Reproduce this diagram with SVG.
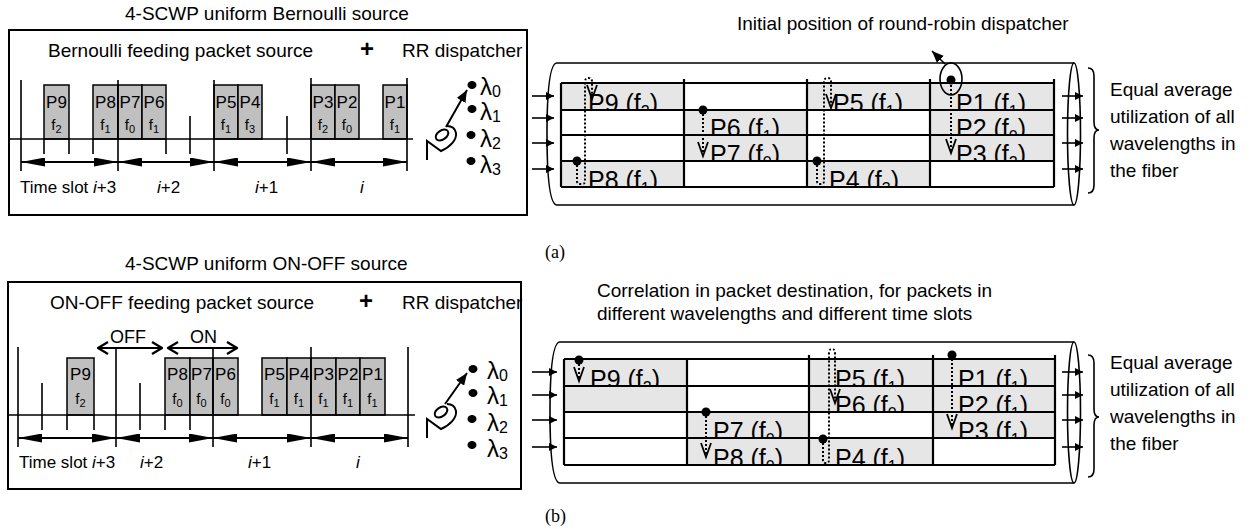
<svg xmlns="http://www.w3.org/2000/svg" width="1258" height="529" viewBox="0 0 1258 529">
<defs>
<style>
text { font-family: "Liberation Sans", Arial, sans-serif; fill:#000; }
.f19 { font-size:19px; }
.f17 { font-size:17px; }
.it { font-style:italic; }
.box { fill:#fff; stroke:#000; stroke-width:2; }
.ax { stroke:#000; stroke-width:1.6; fill:none; }
.pk { fill:#c0c0c0; stroke:#000; stroke-width:1.5; }
.pl { font-size:17px; text-anchor:middle; }
.fl { font-size:15px; text-anchor:middle; }
.fs { font-size:11px; }
.slot { stroke:#000; stroke-width:2; fill:none; marker-start:url(#sh); marker-end:url(#sh); }
.oo { stroke:#000; stroke-width:2; fill:none; marker-start:url(#chev); marker-end:url(#chev); }
.cg { fill:#e6e6e6; }
.cw { fill:#fff; }
.ct { font-size:25px; }
.cs { font-size:16px; }
.grid { stroke:#000; stroke-width:2.2; fill:none; }
.fib { stroke:#000; stroke-width:1.6; fill:none; }
.dt { stroke:#000; stroke-width:2; stroke-dasharray:2 2; fill:none; }
.vh { stroke:#000; stroke-width:1.8; fill:none; }
.lam { font-size:24px; }
.lams { font-size:16px; }
.io { stroke:#000; stroke-width:1.6; fill:none; marker-end:url(#fa); }
.brace { stroke:#000; stroke-width:1.6; fill:none; }
.cap { font-family:"Liberation Serif", "Times New Roman", serif; font-size:18px; }
.dsp { stroke:#000; stroke-width:2; fill:none; }
</style>
<marker id="sh" viewBox="0 0 24 9" refX="24" refY="4.5" markerWidth="24" markerHeight="9" markerUnits="userSpaceOnUse" orient="auto-start-reverse"><path d="M0,0 L24,4.5 L0,9 Z" fill="#000"/></marker>
<marker id="chev" viewBox="0 0 12 14" refX="11" refY="7" markerWidth="12" markerHeight="14" markerUnits="userSpaceOnUse" orient="auto-start-reverse"><path d="M1,1 L11,7 L1,13" fill="none" stroke="#000" stroke-width="2.2"/></marker>
<marker id="fa" viewBox="0 0 8 8" refX="8" refY="4" markerWidth="8" markerHeight="8" markerUnits="userSpaceOnUse" orient="auto"><path d="M0,0 L8,4 L0,8 Z" fill="#000"/></marker>
<marker id="ah" viewBox="0 0 12 10" refX="12" refY="5" markerWidth="12" markerHeight="10" markerUnits="userSpaceOnUse" orient="auto"><path d="M0,0 L12,5 L0,10 Z" fill="#000"/></marker>
</defs>
<rect width="1258" height="529" fill="#fff"/>

<!-- ================= PANEL (a) ================= -->
<g id="source-a">
<text x="125" y="20" class="f19">4-SCWP uniform Bernoulli source</text>
<rect x="9" y="30" width="518" height="185" class="box"/>
<text x="48" y="57" class="f19">Bernoulli feeding packet source</text>
<text x="367" y="57" font-size="24" font-weight="bold" text-anchor="middle">+</text>
<text x="402" y="57" class="f19">RR dispatcher</text>
<rect x="44" y="85" width="25" height="54" class="pk"/>
<rect x="93" y="85" width="25" height="54" class="pk"/>
<rect x="118" y="85" width="24" height="54" class="pk"/>
<rect x="142" y="85" width="24" height="54" class="pk"/>
<rect x="214" y="85" width="24" height="54" class="pk"/>
<rect x="238" y="85" width="24" height="54" class="pk"/>
<rect x="311" y="85" width="24" height="54" class="pk"/>
<rect x="335" y="85" width="24" height="54" class="pk"/>
<rect x="383" y="85" width="24" height="54" class="pk"/>
<path class="ax" d="M9,139 H413 M21,80 V171 M118,80 V171 M214,80 V171 M311,78 V171 M407,78 V171 M44,139 V154 M69,139 V154 M93,139 V154 M166,139 V154 M190,116 V154 M287,116 V154"/>
<text x="56.5" y="108" class="pl">P9</text><text x="56.5" y="130" class="fl">f<tspan class="fs" dy="3">2</tspan></text>
<text x="105.5" y="108" class="pl">P8</text><text x="105.5" y="130" class="fl">f<tspan class="fs" dy="3">1</tspan></text>
<text x="130" y="108" class="pl">P7</text><text x="130" y="130" class="fl">f<tspan class="fs" dy="3">0</tspan></text>
<text x="154" y="108" class="pl">P6</text><text x="154" y="130" class="fl">f<tspan class="fs" dy="3">1</tspan></text>
<text x="226" y="108" class="pl">P5</text><text x="226" y="130" class="fl">f<tspan class="fs" dy="3">1</tspan></text>
<text x="250" y="108" class="pl">P4</text><text x="250" y="130" class="fl">f<tspan class="fs" dy="3">3</tspan></text>
<text x="323" y="108" class="pl">P3</text><text x="323" y="130" class="fl">f<tspan class="fs" dy="3">2</tspan></text>
<text x="347" y="108" class="pl">P2</text><text x="347" y="130" class="fl">f<tspan class="fs" dy="3">0</tspan></text>
<text x="395" y="108" class="pl">P1</text><text x="395" y="130" class="fl">f<tspan class="fs" dy="3">1</tspan></text>
<line x1="21" y1="162" x2="118" y2="162" class="slot"/>
<line x1="118" y1="162" x2="214" y2="162" class="slot"/>
<line x1="214" y1="162" x2="311" y2="162" class="slot"/>
<line x1="311" y1="162" x2="407" y2="162" class="slot"/>
<text x="20" y="193" class="f17">Time slot <tspan class="it">i</tspan>+3</text>
<text x="157" y="193" class="f17"><tspan class="it">i</tspan>+2</text>
<text x="255" y="193" class="f17"><tspan class="it">i</tspan>+1</text>
<text x="360" y="193" class="f17 it">i</text>
</g>

<g id="dispatcher-a">
<ellipse cx="472" cy="85" rx="4.5" ry="4"/>
<ellipse cx="472" cy="109" rx="4.5" ry="4"/>
<ellipse cx="471" cy="135" rx="4.5" ry="4"/>
<ellipse cx="471" cy="161" rx="4.5" ry="4"/>
<text x="480" y="95" class="lam">λ<tspan class="lams" dy="2">0</tspan></text>
<text x="480" y="120" class="lam">λ<tspan class="lams" dy="2">1</tspan></text>
<text x="480" y="147" class="lam">λ<tspan class="lams" dy="2">2</tspan></text>
<text x="480" y="173" class="lam">λ<tspan class="lams" dy="2">3</tspan></text>
<line x1="446" y1="127" x2="467" y2="90" class="dsp" marker-end="url(#ah)"/>
<ellipse cx="442" cy="135" rx="7" ry="4.5" transform="rotate(-35 442 135)" class="dsp"/>
<path class="dsp" d="M427,160 L427,141 L441,151 C450,147 457,140 456,133 C455,128 451,126 447,126"/>
</g>

<g id="fiber-a">
<path class="fib" d="M557,63 H1074 M557,205 H1074 M557,63 C549,63 547,95 547,134 C547,173 549,205 557,205"/>
<ellipse class="fib" cx="1074" cy="134" rx="6.5" ry="71"/>
<rect x="561" y="83" width="123" height="27" class="cg"/>
<rect x="684" y="83" width="123" height="27" class="cw"/>
<rect x="807" y="83" width="123" height="27" class="cg"/>
<rect x="930" y="83" width="124" height="27" class="cg"/>
<text x="588" y="112" class="ct">P9 (f<tspan class="cs" dy="5">2</tspan><tspan dy="-5">)</tspan></text>
<text x="833" y="112" class="ct">P5 (f<tspan class="cs" dy="5">1</tspan><tspan dy="-5">)</tspan></text>
<text x="956" y="112" class="ct">P1 (f<tspan class="cs" dy="5">1</tspan><tspan dy="-5">)</tspan></text>
<rect x="561" y="110" width="123" height="25" class="cw"/>
<rect x="684" y="110" width="123" height="25" class="cg"/>
<rect x="807" y="110" width="123" height="25" class="cw"/>
<rect x="930" y="110" width="124" height="25" class="cg"/>
<text x="710" y="137" class="ct">P6 (f<tspan class="cs" dy="5">1</tspan><tspan dy="-5">)</tspan></text>
<text x="956" y="137" class="ct">P2 (f<tspan class="cs" dy="5">0</tspan><tspan dy="-5">)</tspan></text>
<rect x="561" y="135" width="123" height="26" class="cw"/>
<rect x="684" y="135" width="123" height="26" class="cg"/>
<rect x="807" y="135" width="123" height="26" class="cw"/>
<rect x="930" y="135" width="124" height="26" class="cg"/>
<text x="710" y="163" class="ct">P7 (f<tspan class="cs" dy="5">0</tspan><tspan dy="-5">)</tspan></text>
<text x="956" y="163" class="ct">P3 (f<tspan class="cs" dy="5">2</tspan><tspan dy="-5">)</tspan></text>
<rect x="561" y="161" width="123" height="26" class="cg"/>
<rect x="684" y="161" width="123" height="26" class="cw"/>
<rect x="807" y="161" width="123" height="26" class="cg"/>
<rect x="930" y="161" width="124" height="26" class="cw"/>
<text x="588" y="189" class="ct">P8 (f<tspan class="cs" dy="5">1</tspan><tspan dy="-5">)</tspan></text>
<text x="829" y="189" class="ct">P4 (f<tspan class="cs" dy="5">3</tspan><tspan dy="-5">)</tspan></text>
<rect x="559" y="188" width="498" height="12" fill="#fff"/>
<path class="grid" d="M561,83 H1054 M561,110 H1054 M561,135 H1054 M561,161 H1054 M561,187 H1054 M561,83 V187 M684,79 V187 M807,79 V187 M930,79 V187 M1054,79 V187"/>
</g>

<g id="connectors-a">
<line x1="532" y1="96" x2="554" y2="96" class="io"/>
<line x1="532" y1="118" x2="554" y2="118" class="io"/>
<line x1="532" y1="143" x2="554" y2="143" class="io"/>
<line x1="532" y1="169" x2="554" y2="169" class="io"/>
<line x1="1062" y1="96" x2="1083" y2="96" class="io"/>
<line x1="1062" y1="118" x2="1083" y2="118" class="io"/>
<line x1="1062" y1="143" x2="1083" y2="143" class="io"/>
<line x1="1062" y1="169" x2="1083" y2="169" class="io"/>
<path class="dt" d="M577,161 L577,181 Q577,184 580,184 L582,184 Q585,184 585,181 L585,82 Q585,78 588.5,78 Q592,78 592,82 L592,97"/>
<path class="vh" d="M587,85 L592,99 L597,85"/>
<circle cx="577" cy="161" r="4.5"/>
<path class="dt" d="M703,110 L703,154"/>
<path class="vh" d="M698,142 L703,156 L708,142"/>
<circle cx="703" cy="110" r="4.5"/>
<path class="dt" d="M817,161 L817,181 Q817,184 820,184 L821,184 Q824,184 824,181 L824,82 Q824,78 827.5,78 Q831,78 831,82 L831,106"/>
<path class="vh" d="M826,94 L831,108 L836,94"/>
<circle cx="817" cy="161" r="4.5"/>
<path class="dt" d="M951,81 L951,151"/>
<path class="vh" d="M946,139 L951,153 L956,139"/>
<circle cx="951" cy="80" r="4.5"/>
<ellipse cx="951" cy="79" rx="11" ry="16" class="fib"/>
<line x1="945" y1="64" x2="932" y2="51" class="fib" marker-end="url(#ah)"/>
</g>

<g id="labels-a">
<text x="737" y="30" class="f19">Initial position of round-robin dispatcher</text>
<path class="brace" d="M1088,68 Q1094,68 1094,76 L1094,122 Q1094,130 1099,130 Q1094,130 1094,138 L1094,185 Q1094,193 1088,193"/>
<text x="1110" y="96" class="f19">Equal average</text>
<text x="1110" y="123" class="f19">utilization of all</text>
<text x="1110" y="150" class="f19">wavelengths in</text>
<text x="1110" y="177" class="f19">the fiber</text>
<text x="545" y="258" class="cap">(a)</text>
</g>

<!-- ================= PANEL (b) ================= -->
<g id="source-b">
<text x="125" y="270" class="f19">4-SCWP uniform ON-OFF source</text>
<rect x="8" y="282" width="513" height="207" class="box"/>
<text x="50" y="309" class="f19">ON-OFF feeding packet source</text>
<text x="366" y="309" font-size="24" font-weight="bold" text-anchor="middle">+</text>
<text x="402" y="309" class="f19">RR dispatcher</text>
<text x="110" y="343" font-size="18">OFF</text>
<text x="190" y="343" font-size="18">ON</text>
<line x1="98" y1="348" x2="162" y2="348" class="oo"/>
<line x1="168" y1="348" x2="237" y2="348" class="oo"/>
<rect x="67" y="358" width="27" height="57" class="pk"/>
<rect x="165" y="358" width="25" height="57" class="pk"/>
<rect x="190" y="358" width="23" height="57" class="pk"/>
<rect x="213" y="358" width="25" height="57" class="pk"/>
<rect x="262" y="358" width="25" height="57" class="pk"/>
<rect x="287" y="358" width="24" height="57" class="pk"/>
<rect x="311" y="358" width="25" height="57" class="pk"/>
<rect x="336" y="358" width="24" height="57" class="pk"/>
<rect x="360" y="358" width="25" height="57" class="pk"/>
<path class="ax" d="M8,415 H415 M18,347 V447 M116,347 V447 M213,347 V447 M311,347 V447 M408,347 V447 M42,383 V430 M140,383 V430 M67,415 V430 M94,415 V430 M165,415 V430 M190,415 V430"/>
<text x="80.5" y="380" class="pl">P9</text><text x="80.5" y="404" class="fl">f<tspan class="fs" dy="3">2</tspan></text>
<text x="177.5" y="380" class="pl">P8</text><text x="177.5" y="404" class="fl">f<tspan class="fs" dy="3">0</tspan></text>
<text x="201.5" y="380" class="pl">P7</text><text x="201.5" y="404" class="fl">f<tspan class="fs" dy="3">0</tspan></text>
<text x="225.5" y="380" class="pl">P6</text><text x="225.5" y="404" class="fl">f<tspan class="fs" dy="3">0</tspan></text>
<text x="274.5" y="380" class="pl">P5</text><text x="274.5" y="404" class="fl">f<tspan class="fs" dy="3">1</tspan></text>
<text x="299" y="380" class="pl">P4</text><text x="299" y="404" class="fl">f<tspan class="fs" dy="3">1</tspan></text>
<text x="323.5" y="380" class="pl">P3</text><text x="323.5" y="404" class="fl">f<tspan class="fs" dy="3">1</tspan></text>
<text x="348" y="380" class="pl">P2</text><text x="348" y="404" class="fl">f<tspan class="fs" dy="3">1</tspan></text>
<text x="372.5" y="380" class="pl">P1</text><text x="372.5" y="404" class="fl">f<tspan class="fs" dy="3">1</tspan></text>
<line x1="18" y1="438" x2="116" y2="438" class="slot"/>
<line x1="116" y1="438" x2="213" y2="438" class="slot"/>
<line x1="213" y1="438" x2="311" y2="438" class="slot"/>
<line x1="311" y1="438" x2="408" y2="438" class="slot"/>
<text x="19" y="468" class="f17">Time slot <tspan class="it">i</tspan>+3</text>
<text x="140" y="468" class="f17"><tspan class="it">i</tspan>+2</text>
<text x="248" y="468" class="f17"><tspan class="it">i</tspan>+1</text>
<text x="356" y="468" class="f17 it">i</text>
</g>

<g id="dispatcher-b">
<ellipse cx="473" cy="369" rx="4.5" ry="4"/>
<ellipse cx="473" cy="393" rx="4.5" ry="4"/>
<ellipse cx="472" cy="419" rx="4.5" ry="4"/>
<ellipse cx="472" cy="445" rx="4.5" ry="4"/>
<text x="487" y="379" class="lam">λ<tspan class="lams" dy="2">0</tspan></text>
<text x="487" y="404" class="lam">λ<tspan class="lams" dy="2">1</tspan></text>
<text x="487" y="431" class="lam">λ<tspan class="lams" dy="2">2</tspan></text>
<text x="487" y="457" class="lam">λ<tspan class="lams" dy="2">3</tspan></text>
<line x1="445" y1="404" x2="467" y2="373" class="dsp" marker-end="url(#ah)"/>
<ellipse cx="441" cy="412" rx="7" ry="4.5" transform="rotate(-35 441 412)" class="dsp"/>
<path class="dsp" d="M427,438 L427,419 L441,429 C450,425 457,418 456,411 C455,406 451,404 447,404"/>
</g>

<g id="fiber-b">
<path class="fib" d="M560,342 H1074 M560,483 H1074 M560,342 C552,342 550,374 550,412.5 C550,451 552,483 560,483"/>
<ellipse class="fib" cx="1074" cy="412.5" rx="6.5" ry="70.5"/>
<rect x="564" y="359" width="123" height="27" class="cg"/>
<rect x="687" y="359" width="122" height="27" class="cw"/>
<rect x="809" y="359" width="124" height="27" class="cg"/>
<rect x="933" y="359" width="122" height="27" class="cg"/>
<text x="590" y="388" class="ct">P9 (f<tspan class="cs" dy="5">2</tspan><tspan dy="-5">)</tspan></text>
<text x="835" y="388" class="ct">P5 (f<tspan class="cs" dy="5">1</tspan><tspan dy="-5">)</tspan></text>
<text x="958" y="388" class="ct">P1 (f<tspan class="cs" dy="5">1</tspan><tspan dy="-5">)</tspan></text>
<rect x="564" y="386" width="123" height="26" class="cg"/>
<rect x="687" y="386" width="122" height="26" class="cw"/>
<rect x="809" y="386" width="124" height="26" class="cg"/>
<rect x="933" y="386" width="122" height="26" class="cg"/>
<text x="835" y="414" class="ct">P6 (f<tspan class="cs" dy="5">0</tspan><tspan dy="-5">)</tspan></text>
<text x="958" y="414" class="ct">P2 (f<tspan class="cs" dy="5">1</tspan><tspan dy="-5">)</tspan></text>
<rect x="564" y="412" width="123" height="26" class="cw"/>
<rect x="687" y="412" width="122" height="26" class="cg"/>
<rect x="809" y="412" width="124" height="26" class="cw"/>
<rect x="933" y="412" width="122" height="26" class="cg"/>
<text x="713" y="440" class="ct">P7 (f<tspan class="cs" dy="5">0</tspan><tspan dy="-5">)</tspan></text>
<text x="958" y="440" class="ct">P3 (f<tspan class="cs" dy="5">1</tspan><tspan dy="-5">)</tspan></text>
<rect x="564" y="438" width="123" height="27" class="cw"/>
<rect x="687" y="438" width="122" height="27" class="cg"/>
<rect x="809" y="438" width="124" height="27" class="cg"/>
<rect x="933" y="438" width="122" height="27" class="cw"/>
<text x="713" y="467" class="ct">P8 (f<tspan class="cs" dy="5">0</tspan><tspan dy="-5">)</tspan></text>
<text x="835" y="467" class="ct">P4 (f<tspan class="cs" dy="5">1</tspan><tspan dy="-5">)</tspan></text>
<rect x="562" y="466" width="496" height="12" fill="#fff"/>
<path class="grid" d="M564,359 H1055 M564,386 H1055 M564,412 H1055 M564,438 H1055 M564,465 H1055 M564,359 V465 M687,359 V465 M809,355 V465 M933,355 V465 M1055,355 V465"/>
</g>

<g id="connectors-b">
<line x1="532" y1="372" x2="557" y2="372" class="io"/>
<line x1="532" y1="395" x2="557" y2="395" class="io"/>
<line x1="532" y1="420" x2="557" y2="420" class="io"/>
<line x1="532" y1="447" x2="557" y2="447" class="io"/>
<line x1="1062" y1="372" x2="1083" y2="372" class="io"/>
<line x1="1062" y1="395" x2="1083" y2="395" class="io"/>
<line x1="1062" y1="420" x2="1083" y2="420" class="io"/>
<line x1="1062" y1="447" x2="1083" y2="447" class="io"/>
<path class="dt" d="M579,360 L579,378"/>
<path class="vh" d="M574,367 L579,381 L584,367"/>
<circle cx="579" cy="360" r="4.5"/>
<path class="dt" d="M706,412 L706,455"/>
<path class="vh" d="M701,443 L706,457 L711,443"/>
<circle cx="706" cy="412" r="4.5"/>
<path class="dt" d="M823,439 L823,460 Q823,463 826,463 L826,463 Q829,463 829,460 L829,353 Q829,349 832,349 Q835,349 835,353 L835,401"/>
<path class="vh" d="M830,389 L835,403 L840,389"/>
<circle cx="823" cy="439" r="4.5"/>
<path class="dt" d="M952,355 L952,426"/>
<path class="vh" d="M947,414 L952,428 L957,414"/>
<circle cx="952" cy="355" r="4.5"/>
</g>

<g id="labels-b">
<text x="597" y="297" class="f19">Correlation in packet destination, for packets in</text>
<text x="597" y="320" class="f19">different wavelengths and different time slots</text>
<path class="brace" d="M1088,355 Q1094,355 1094,363 L1094,409 Q1094,417 1099,417 Q1094,417 1094,425 L1094,469 Q1094,477 1088,477"/>
<text x="1110" y="369" class="f19">Equal average</text>
<text x="1110" y="396" class="f19">utilization of all</text>
<text x="1110" y="423" class="f19">wavelengths in</text>
<text x="1110" y="450" class="f19">the fiber</text>
<text x="545" y="522" class="cap">(b)</text>
</g>
</svg>
